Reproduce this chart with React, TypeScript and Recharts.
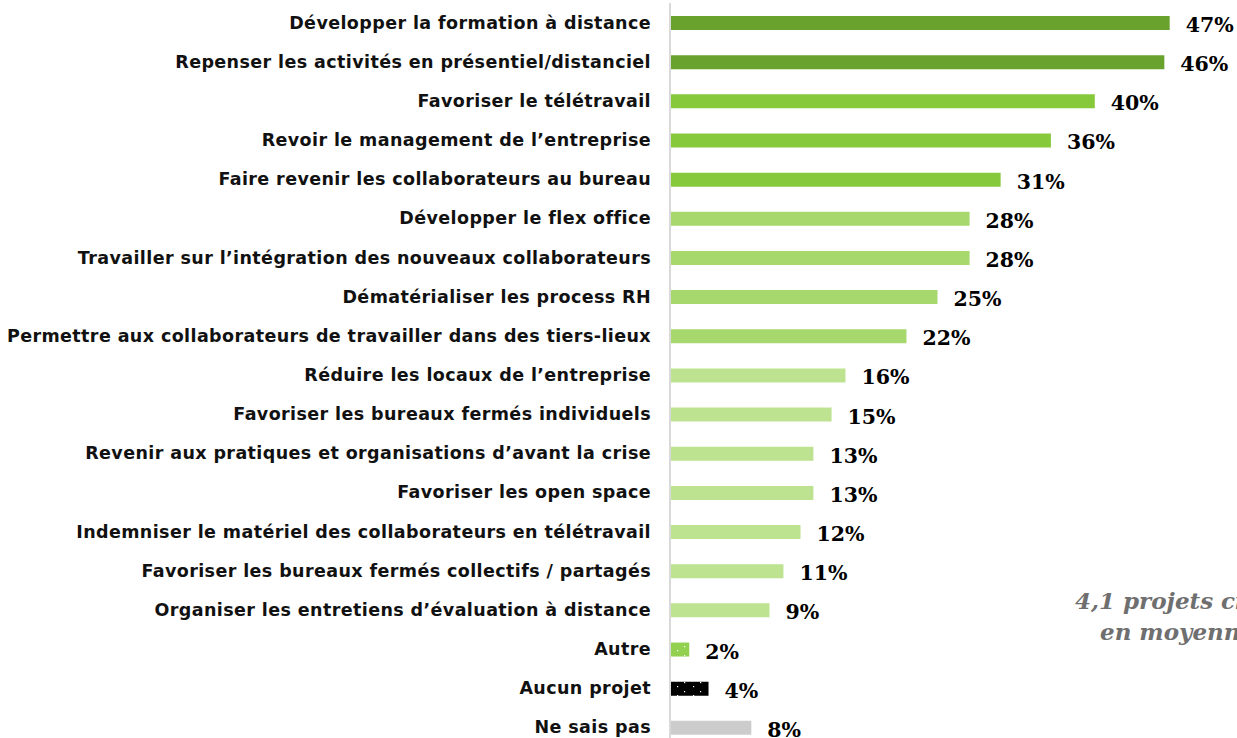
import React from 'react';
import { BarChart, Bar, XAxis, YAxis, Cell, LabelList } from 'recharts';

const categories = [
  'Développer la formation à distance',
  'Repenser les activités en présentiel/distanciel',
  'Favoriser le télétravail',
  'Revoir le management de l’entreprise',
  'Faire revenir les collaborateurs au bureau',
  'Développer le flex office',
  'Travailler sur l’intégration des nouveaux collaborateurs',
  'Dématérialiser les process RH',
  'Permettre aux collaborateurs de travailler dans des tiers-lieux',
  'Réduire les locaux de l’entreprise',
  'Favoriser les bureaux fermés individuels',
  'Revenir aux pratiques et organisations d’avant la crise',
  'Favoriser les open space',
  'Indemniser le matériel des collaborateurs en télétravail',
  'Favoriser les bureaux fermés collectifs / partagés',
  'Organiser les entretiens d’évaluation à distance',
  'Autre',
  'Aucun projet',
  'Ne sais pas',
];

// shares (labels show the rounded value)
const shares = [46.7, 46.2, 39.7, 35.6, 30.9, 28.0, 28.0, 25.0, 22.1, 16.4, 15.1, 13.4, 13.4, 12.2, 10.6, 9.3, 1.8, 3.6, 7.6];

const barFills = [
  '#6aa22e', '#6aa22e',
  '#86c93a', '#86c93a', '#86c93a',
  '#a6d86e', '#a6d86e', '#a6d86e', '#a6d86e',
  '#bde390', '#bde390', '#bde390', '#bde390', '#bde390', '#bde390', '#bde390',
  'url(#dotsGreen)', 'url(#dotsBlack)', '#cccccc',
];

const data = categories.map((name, i) => ({ name, value: shares[i] }));

const CategoryTick: React.FC<any> = ({ x, y, payload }) => (
  <text
    x={x - 11}
    y={y}
    dy={6}
    textAnchor="end"
    fontFamily="'DejaVu Sans', sans-serif"
    fontWeight="bold"
    fontSize={17.5}
    letterSpacing={0.4}
    fill="#111"
  >
    {payload.value}
  </text>
);

const ValueLabel: React.FC<any> = ({ x, y, width, height, value }) => (
  <text
    x={x + width + 16}
    y={y + height / 2}
    dy={9}
    fontFamily="'DejaVu Serif', serif"
    fontWeight="bold"
    fontSize={20.5}
    fill="#000"
  >
    {`${Math.round(value)}%`}
  </text>
);

const App: React.FC = () => {
  return (
    <div style={{ position: 'fixed', top: 0, left: 0, width: 1237, height: 738, overflow: 'hidden', background: '#fff' }}>
      <BarChart
        width={1237}
        height={748}
        data={data}
        layout="vertical"
        margin={{ top: 3, right: 32, bottom: 1, left: 0 }}
        barCategoryGap={0}
      >
        <defs>
          <pattern id="dotsGreen" width="16" height="9" patternUnits="userSpaceOnUse">
            <rect width="16" height="9" fill="#92d050" />
            <rect x="5" y="2" width="1.2" height="1.2" fill="#fff" />
            <rect x="12" y="7" width="1.2" height="1.2" fill="#fff" />
          </pattern>
          <pattern id="dotsBlack" width="16" height="9" patternUnits="userSpaceOnUse">
            <rect width="16" height="9" fill="#000" />
            <rect x="5" y="2" width="1.2" height="1.2" fill="#fff" />
            <rect x="12" y="7" width="1.2" height="1.2" fill="#fff" />
          </pattern>
        </defs>
        <XAxis type="number" domain={[0, 50]} hide />
        <YAxis
          type="category"
          dataKey="name"
          width={670}
          tickLine={false}
          axisLine={{ stroke: '#d9d9d9', strokeWidth: 2 }}
          tick={<CategoryTick />}
          interval={0}
        />
        <Bar dataKey="value" barSize={14} isAnimationActive={false}>
          {data.map((d, i) => (
            <Cell key={d.name} fill={barFills[i]} />
          ))}
          <LabelList dataKey="value" content={<ValueLabel />} />
        </Bar>
      </BarChart>
      <div
        style={{
          position: 'absolute',
          left: 1075,
          top: 585,
          whiteSpace: 'nowrap',
          fontFamily: "'DejaVu Serif', serif",
          fontWeight: 'bold',
          fontStyle: 'italic',
          fontSize: 23,
          lineHeight: '31px',
          color: '#6f6f6f',
        }}
      >
        <div>4,1 projets cités</div>
        <div style={{ paddingLeft: 25 }}>en moyenne</div>
      </div>
    </div>
  );
};

export default App;
